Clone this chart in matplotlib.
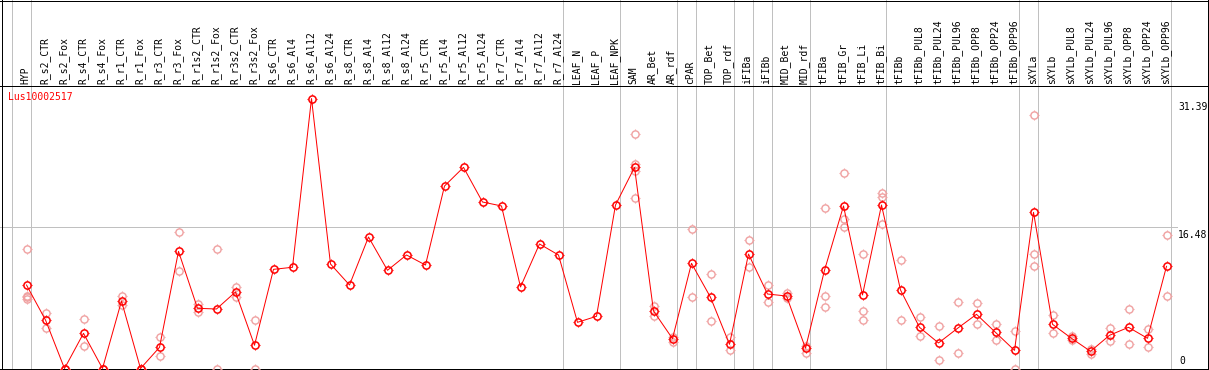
import numpy as np
import matplotlib
matplotlib.use("Agg")
import matplotlib.pyplot as plt
import matplotlib.transforms as mtransforms
from matplotlib.path import Path

# ------- data -------
gene = "Lus10002517"
samples = ["HYP", "R_s2_CTR", "R_s2_Fox", "R_s4_CTR", "R_s4_Fox", "R_r1_CTR",
           "R_r1_Fox", "R_r3_CTR", "R_r3_Fox", "R_r1s2_CTR", "R_r1s2_Fox",
           "R_r3s2_CTR", "R_r3s2_Fox", "R_s6_CTR", "R_s6_Al4", "R_s6_Al12",
           "R_s6_Al24", "R_s8_CTR", "R_s8_Al4", "R_s8_Al12", "R_s8_Al24",
           "R_r5_CTR", "R_r5_Al4", "R_r5_Al12", "R_r5_Al24", "R_r7_CTR",
           "R_r7_Al4", "R_r7_Al12", "R_r7_Al24", "LEAF_N", "LEAF_P", "LEAF_NPK",
           "SAM", "AR_Bet", "AR_rdf", "cPAR", "TOP_Bet", "TOP_rdf", "iFIBa",
           "iFIBb", "MID_Bet", "MID_rdf", "tFIBa", "tFIB_Gr", "tFIB_Li",
           "tFIB_Bi", "tFIBb", "tFIBb_PUL8", "tFIBb_PUL24", "tFIBb_PUL96",
           "tFIBb_OPP8", "tFIBb_OPP24", "tFIBb_OPP96", "sXYLa", "sXYLb",
           "sXYLb_PUL8", "sXYLb_PUL24", "sXYLb_PUL96", "sXYLb_OPP8",
           "sXYLb_OPP24", "sXYLb_OPP96"]

means = [9.71, 5.64, 0.0, 4.09, 0.0, 7.85, 0.0, 2.46, 13.62, 7.0, 6.92,
         8.9, 2.7, 11.53, 11.77, 31.39, 12.15, 9.71, 15.29, 11.42, 13.2,
         12.03, 21.22, 23.39, 19.36, 18.9, 9.48, 14.48, 13.2, 5.37, 6.07,
         19.01, 23.39, 6.69, 3.47, 12.23, 8.28, 2.81, 13.31, 8.66, 8.43,
         2.35, 11.42, 18.9, 8.55, 19.01, 9.13, 4.79, 2.97, 4.67, 6.3, 4.2,
         2.11, 18.16, 5.14, 3.51, 2.0, 3.86, 4.79, 3.51, 11.88]

replicates = [[13.86, 8.43, 8.08, 8.3], [6.42, 4.67], [0.0, 0.0], [5.72, 2.62],
              [0.0, 0.0], [8.43, 7.38], [0.0, 0.0], [3.62, 1.41], [15.84, 11.3],
              [7.46, 6.6], [13.86, 0.0], [9.44, 8.28], [5.64, 0.0],
              [], [], [], [], [], [], [], [], [], [], [], [], [], [], [], [],
              [], [], [],
              [27.27, 23.78, 23.0, 19.79], [7.27, 6.1], [3.7, 3.12], [16.18, 8.28],
              [10.99, 5.52], [3.7, 2.11], [14.9, 11.77], [9.67, 7.7], [8.74, 8.16],
              [2.62, 1.77], [18.63, 8.43, 7.12], [22.7, 17.35, 16.45],
              [13.31, 6.69, 5.64], [20.44, 19.9, 16.77], [12.58, 5.64],
              [5.95, 3.74], [4.9, 0.95], [7.7, 1.77], [7.58, 5.14], [5.14, 3.28],
              [4.32, 0.0], [29.44, 13.27, 11.88], [6.19, 4.09], [3.74, 3.35],
              [2.3, 1.69], [4.67, 3.16], [6.88, 2.81], [4.56, 2.47], [15.49, 8.4]]

group_breaks = [-1, 0, 28, 31, 34, 35, 37, 38, 39, 41, 45, 52, 53, 60]
scale_ticks = [31.39, 16.48, 0]

# ------- layout (pixel geometry) -------
W, H = 1209, 370
x0, dx = 26.5, 19.0      # pixel of first sample, spacing
y0, dy = 368.5, 8.6      # pixel of zero, pixels per unit

fig = plt.figure(figsize=(W / 100, H / 100), dpi=100)
ax = fig.add_axes([0, 0, 1, 1])
ax.set_xlim(-x0 / dx, (W - x0) / dx)
ax.set_ylim(-(H - y0) / dy, y0 / dy)
ax.axis("off")

def yfrac(p):
    return 1 - p / H

def xfrac(p):
    return p / W

mono = "DejaVu Sans Mono"
lw1 = 0.72

# frame
ax.plot([xfrac(1.5)] * 2, [0, 1], color="k", lw=lw1, transform=ax.transAxes, clip_on=False)
ax.plot([xfrac(1207.5)] * 2, [0, 1], color="k", lw=lw1, transform=ax.transAxes, clip_on=False)
ax.plot([0, 1], [yfrac(0.5)] * 2, color="k", lw=lw1, transform=ax.transAxes, clip_on=False)
ax.plot([0, 1], [yfrac(85.5)] * 2, color="k", lw=lw1, transform=ax.transAxes, clip_on=False)
ax.plot([0, 1], [yfrac(369.3)] * 2, color="k", lw=lw1, transform=ax.transAxes, clip_on=False)

# group separators
for k in group_breaks:
    ax.axvline(k + 4.0 / dx, color="#c0c0c0", lw=lw1, zorder=0)

# 16.48 reference line
ax.plot([0, 1177 / W], [16.48, 16.48], color="#c0c0c0", lw=lw1, zorder=0,
        transform=ax.get_yaxis_transform())

# sample labels
xs = np.arange(len(samples))
tr = ax.get_xaxis_transform()
for i, s in enumerate(samples):
    ax.text(i - 0.05, yfrac(84), s, rotation=90, ha="center", va="bottom",
            family=mono, fontsize=7, transform=tr)

# scale labels (x in axes fraction, y in data)
ytr = ax.get_yaxis_transform()
for v in scale_ticks:
    if v == 0:
        ax.text(xfrac(1179), v + 3 / dy, "0", ha="left", va="bottom", family=mono,
                fontsize=7, transform=ytr)
    else:
        ax.text(xfrac(1178), v - 3 / dy, "%.2f" % v, ha="left", va="top",
                family=mono, fontsize=7, transform=ytr)

ax.text(xfrac(8), yfrac(97), gene, color="red", family=mono, fontsize=7,
        ha="left", va="center", transform=ax.transAxes)

# marker ticks path
tick_verts, tick_codes = [], []
for ang in [0, 90, 180, 270]:
    c, s_ = np.cos(np.radians(ang)), np.sin(np.radians(ang))
    tick_verts += [(0.72 * c, 0.72 * s_), (c, s_)]
    tick_codes += [Path.MOVETO, Path.LINETO]
tick_marker = Path(tick_verts, tick_codes)

# replicates
rx = [i for i, r in enumerate(replicates) for _ in r]
ry = [v for r in replicates for v in r]
ax.plot(rx, ry, ls="none", marker="o", ms=5.2, mfc="none", mec="#f0a0a0", mew=1.0, zorder=2)
ax.plot(rx, ry, ls="none", marker=tick_marker, ms=7.4, mec="#f0a0a0", mew=0.8, zorder=2)

# means
ax.plot(xs, means, color="red", lw=lw1, zorder=3)
ax.plot(xs, means, ls="none", marker="o", ms=5.2, mfc="none", mec="red", mew=1.1, zorder=4)
ax.plot(xs, means, ls="none", marker=tick_marker, ms=7.4, mec="red", mew=0.8, zorder=4)

fig.savefig("out.png", dpi=100)
